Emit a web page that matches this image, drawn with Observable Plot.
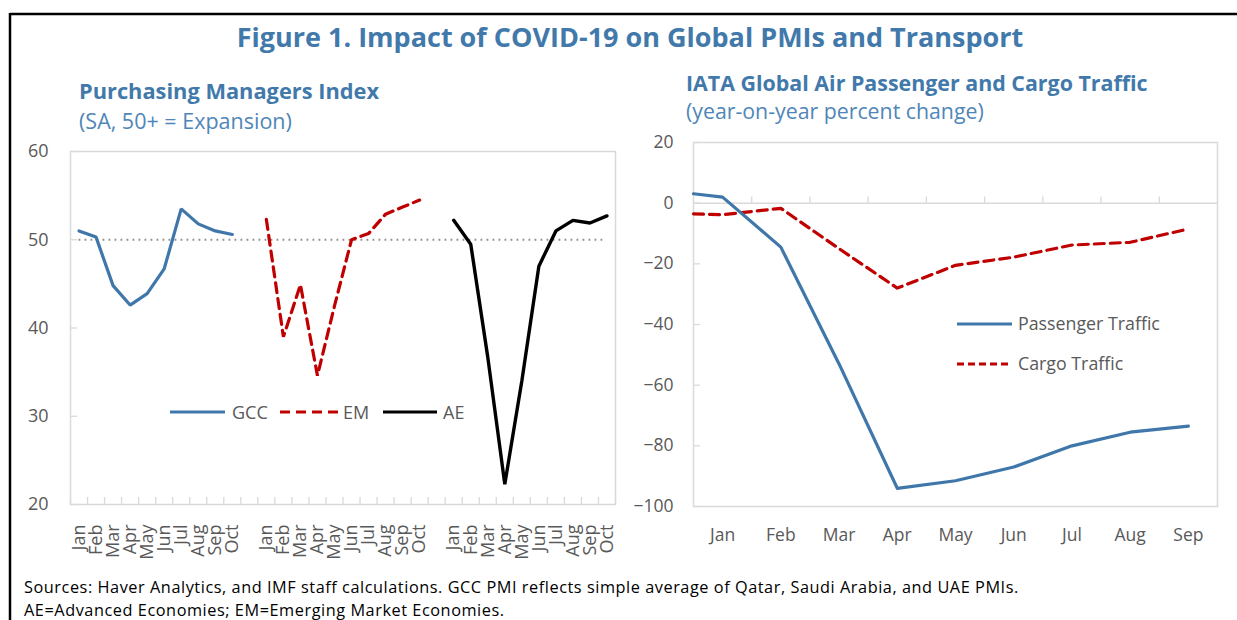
<!DOCTYPE html>
<html>
<head>
<meta charset="utf-8">
<script src="https://cdn.jsdelivr.net/npm/d3@7"></script>
<script src="https://cdn.jsdelivr.net/npm/@observablehq/plot@0.6"></script>
<style>
  html, body { margin: 0; padding: 0; background: #fff; }
  #wrap { position: relative; width: 1237px; height: 620px; overflow: hidden; font-family: "Open Sans", sans-serif; }
  #wrap > * { position: absolute; }
</style>
</head>
<body>
<div id="wrap"></div>
<script>
// ---------------- DATA ----------------
const pmiMonths = ["Jan","Feb","Mar","Apr","May","Jun","Jul","Aug","Sep","Oct"];
const pmiSeries = ["GCC", "EM", "AE"];
const gccValues = [51.0, 50.3, 44.8, 42.6, 43.9, 46.7, 53.5, 51.8, 51.0, 50.6];
const emValues  = [52.3, 39.0, 44.9, 34.6, 42.5, 50.0, 50.7, 52.9, 53.7, 54.5];
const aeValues  = [52.2, 49.5, 36.7, 22.3, 34.0, 47.0, 51.0, 52.2, 51.9, 52.7];
const pmiTicks = [20, 30, 40, 50, 60];
const expansionLevel = 50;

const airMonths = ["Jan","Feb","Mar","Apr","May","Jun","Jul","Aug","Sep"];
const airSeries = ["Passenger Traffic", "Cargo Traffic"];
const passengerStart = 3.1;   // value at the left edge of the axis (Dec)
const cargoStart = -3.5;
const passengerValues = [2.0, -14.5, -53.0, -94.0, -91.5, -87.0, -80.0, -75.5, -73.5];
const cargoValues     = [-3.8, -1.7, -15.0, -28.0, -20.5, -17.8, -13.8, -12.9, -8.5];
const airTicks = [20, 0, -20, -40, -60, -80, -100];

// ---------------- STYLE ----------------
const BLUE = "#3f77aa", RED = "#c00000", BLACK = "#000000";
const TITLE = "#4279ab", GRID = "#d9d9d9", TEXT = "#595959";
const FONT = "Open Sans";

const wrap = document.getElementById("wrap");

// ---------------- OVERLAY (titles, border, legends, caption) ----------------
const ov = d3.create("svg").attr("width", 1237).attr("height", 620)
  .style("left", "0px").style("top", "0px").style("font-family", FONT);
ov.append("line").attr("x1", 10).attr("x2", 1237).attr("y1", 14).attr("y2", 14).attr("stroke", "#000").attr("stroke-width", 2.5);
ov.append("line").attr("x1", 10).attr("x2", 10).attr("y1", 13).attr("y2", 620).attr("stroke", "#000").attr("stroke-width", 2.5);

const txt = (x, y, s, size, weight, fill, anchor = "start") =>
  ov.append("text").attr("x", x).attr("y", y).attr("font-size", size).attr("font-weight", weight)
    .attr("fill", fill).attr("text-anchor", anchor).text(s);

txt(630, 47, "Figure 1. Impact of COVID-19 on Global PMIs and Transport", 27, 700, TITLE, "middle");
txt(79, 99, "Purchasing Managers Index", 21.8, 700, TITLE);
txt(79, 129, "(SA, 50+ = Expansion)", 21.5, 400, "#4f86b8");
txt(686, 91, "IATA Global Air Passenger and Cargo Traffic", 21.4, 700, TITLE);
txt(686, 119, "(year-on-year percent change)", 21.3, 400, "#4f86b8");
txt(24, 593, "Sources: Haver Analytics, and IMF staff calculations. GCC PMI reflects simple average of Qatar, Saudi Arabia, and UAE PMIs.", 16.3, 400, "#000")
  .attr("letter-spacing", 0.55);
txt(24, 616, "AE=Advanced Economies; EM=Emerging Market Economies.", 16.3, 400, "#000")
  .attr("letter-spacing", 0.55);

// left legend
const pmiStyles = {GCC: {stroke: BLUE, dash: null}, EM: {stroke: RED, dash: "10,6"}, AE: {stroke: BLACK, dash: null}};
[[170, 225, 232], [280, 338, 343], [383, 437, 443]].forEach(([a, b, t], i) => {
  const s = pmiStyles[pmiSeries[i]];
  ov.append("line").attr("x1", a).attr("x2", b).attr("y1", 412).attr("y2", 412)
    .attr("stroke", s.stroke).attr("stroke-width", 3.2).attr("stroke-dasharray", s.dash);
  txt(t, 418.5, pmiSeries[i], 18, 400, TEXT);
});
// right legend
[[324, BLUE, null], [364, RED, "7,4"]].forEach(([y, c, dash], i) => {
  ov.append("line").attr("x1", 957).attr("x2", 1012).attr("y1", y).attr("y2", y)
    .attr("stroke", c).attr("stroke-width", 3.2).attr("stroke-dasharray", dash);
  txt(1018, y + 6, airSeries[i], 17.8, 400, TEXT);
});
wrap.appendChild(ov.node());

// ---------------- LEFT CHART: PMI ----------------
const nPerGroup = pmiMonths.length + 1;
const nCat = pmiSeries.length * nPerGroup - 1;
const pmiRows = [];
[gccValues, emValues, aeValues].forEach((vals, g) =>
  vals.forEach((v, i) => pmiRows.push({series: pmiSeries[g], idx: g * nPerGroup + i, month: pmiMonths[i], value: v})));
const labelOf = new Map(pmiRows.map(d => [d.idx, d.month]));
const bounds = d3.range(nCat + 1).map(k => k - 0.5);

const L = {w: 640, h: 440, ml: 70, mr: 25, mt: 16, mb: 71};
const pmiPlot = Plot.plot({
  width: L.w, height: L.h,
  marginLeft: L.ml, marginRight: L.mr, marginTop: L.mt, marginBottom: L.mb,
  style: {fontFamily: FONT, fontSize: "18px", color: TEXT, background: "transparent", maxWidth: "none", overflow: "visible"},
  x: {domain: [-0.5, nCat - 0.5], ticks: [...labelOf.keys()], tickFormat: i => labelOf.get(i),
      tickRotate: -90, tickSize: 0, tickPadding: 20, label: null},
  y: {domain: [20, 60], ticks: pmiTicks, tickSize: 0, tickPadding: 22, label: null},
  marks: [
    Plot.frame({stroke: GRID, strokeWidth: 1.5}),
    Plot.ruleX(bounds, {x: d => d, stroke: GRID, strokeWidth: 1.3, insetTop: L.h - L.mt - L.mb - 7}),
    Plot.ruleY(pmiTicks, {y: d => d, stroke: GRID, strokeWidth: 1.3, insetRight: L.w - L.ml - L.mr - 7}),
    Plot.ruleY([expansionLevel], {y: d => d, x1: d3.min(pmiRows, d => d.idx), x2: d3.max(pmiRows, d => d.idx),
      stroke: "#8f8f8f", strokeWidth: 2, strokeDasharray: "1.8,4.2"}),
    ...pmiSeries.map(s => Plot.line(pmiRows.filter(d => d.series === s), {
      x: "idx", y: "value", stroke: pmiStyles[s].stroke, strokeWidth: s === "AE" ? 3.4 : 3.2,
      strokeDasharray: pmiStyles[s].dash, strokeLinejoin: "miter"
    }))
  ]
});
pmiPlot.style.left = "0px"; pmiPlot.style.top = "135px";
wrap.appendChild(pmiPlot);

// ---------------- RIGHT CHART: IATA ----------------
const startIdx = -0.5;
const passengerRows = [{idx: startIdx, value: passengerStart}, ...passengerValues.map((v, i) => ({idx: i, value: v}))];
const cargoRows = [{idx: startIdx, value: cargoStart}, ...cargoValues.map((v, i) => ({idx: i, value: v}))];
const innerBounds = d3.range(1, airMonths.length).map(k => k - 0.5);

const R = {w: 607, h: 425, ml: 63, mr: 20, mt: 17, mb: 44};
const airPlot = Plot.plot({
  width: R.w, height: R.h,
  marginLeft: R.ml, marginRight: R.mr, marginTop: R.mt, marginBottom: R.mb,
  style: {fontFamily: FONT, fontSize: "17.5px", color: TEXT, background: "transparent", maxWidth: "none", overflow: "visible"},
  x: {domain: [-0.5, airMonths.length - 0.5], ticks: d3.range(airMonths.length), tickFormat: i => airMonths[i],
      tickSize: 0, tickPadding: 22, label: null},
  y: {domain: [-100, 20], ticks: airTicks, tickSize: 0, tickPadding: 20, label: null},
  marks: [
    Plot.frame({stroke: GRID, strokeWidth: 1.5}),
    Plot.ruleY(airTicks, {y: d => d, stroke: GRID, strokeWidth: 1.3, insetRight: R.w - R.ml - R.mr - 7}),
    Plot.ruleY([0], {stroke: GRID, strokeWidth: 1.5}),
    Plot.ruleX(innerBounds, {x: d => d, y1: 0, y2: 2, stroke: GRID, strokeWidth: 1.3}),
    Plot.line(cargoRows, {x: "idx", y: "value", stroke: RED, strokeWidth: 3.2, strokeDasharray: "10,6"}),
    Plot.line(passengerRows, {x: "idx", y: "value", stroke: BLUE, strokeWidth: 3.2})
  ]
});
airPlot.style.left = "630px"; airPlot.style.top = "125px";
wrap.appendChild(airPlot);
</script>
</body>
</html>
